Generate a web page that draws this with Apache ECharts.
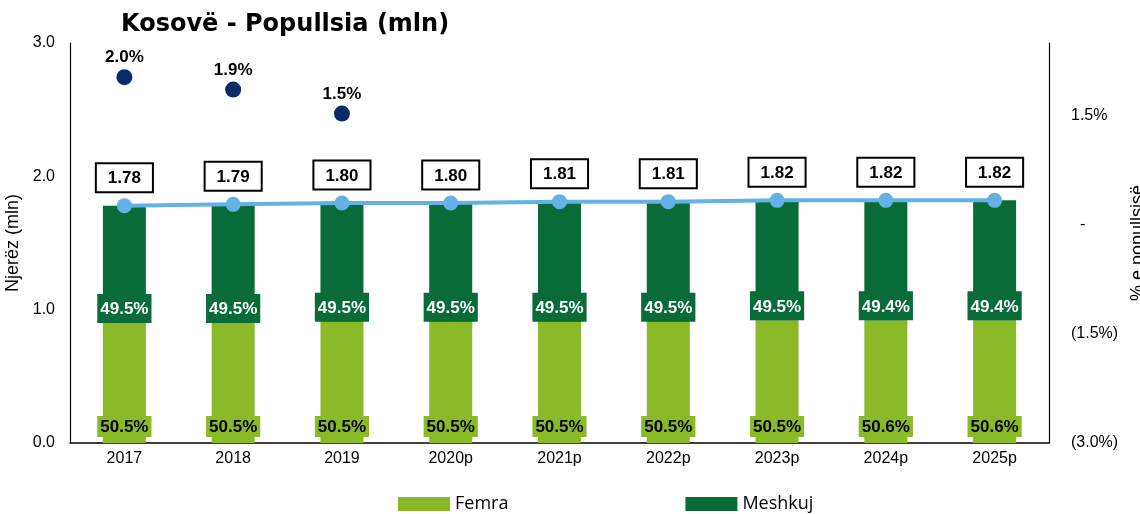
<!DOCTYPE html>
<html>
<head>
<meta charset="utf-8">
<script src="https://cdn.jsdelivr.net/npm/echarts@6/dist/echarts.min.js"></script>
<style>
  html, body { margin: 0; padding: 0; background: #fff; }
  #chart { width: 1140px; height: 514px; }
</style>
</head>
<body>
<div id="chart"></div>
<script>
// kategoritë (vitet)
const years = ['2017', '2018', '2019', '2020p', '2021p', '2022p', '2023p', '2024p', '2025p'];
// popullsia sipas gjinisë (mln)
const femra = [0.90, 0.90, 0.91, 0.91, 0.91, 0.91, 0.92, 0.92, 0.92];
const meshkuj = [0.88, 0.89, 0.89, 0.89, 0.90, 0.90, 0.90, 0.90, 0.90];
// gjithsej (mln)
const totali = [1.78, 1.79, 1.80, 1.80, 1.81, 1.81, 1.82, 1.82, 1.82];
// përqindjet e etiketave
const femraPct = ['50.5%', '50.5%', '50.5%', '50.5%', '50.5%', '50.5%', '50.5%', '50.6%', '50.6%'];
const meshkujPct = ['49.5%', '49.5%', '49.5%', '49.5%', '49.5%', '49.5%', '49.5%', '49.4%', '49.4%'];
// rritja e popullsisë (%)
const rritja = [2.03, 1.86, 1.53, null, null, null, null, null, null];
const rritjaTxt = ['2.0%', '1.9%', '1.5%', '', '', '', '', '', ''];

const FONT = 'Liberation Sans';
const chart = echarts.init(document.getElementById('chart'));

const option = {
  animation: false,
  textStyle: { fontFamily: FONT },
  title: {
    text: 'Kosovë - Popullsia (mln)',
    left: 116,
    top: 8,
    textStyle: { fontFamily: 'DejaVu Sans', fontWeight: 'bold', fontSize: 24, color: '#000' }
  },
  legend: {
    data: ['Femra', 'Meshkuj'],
    left: 393,
    top: 490,
    itemWidth: 52,
    itemHeight: 14,
    itemGap: 177,
    icon: 'rect',
    textStyle: { fontFamily: 'Open Sans', fontSize: 18, color: '#000' }
  },
  grid: { left: 70, right: 91, top: 43, bottom: 71, outerBoundsMode: 'none', containLabel: false },
  xAxis: {
    type: 'category',
    data: years,
    axisTick: { show: false },
    axisLine: { lineStyle: { color: '#000', width: 1.5 } },
    axisLabel: { color: '#000', fontFamily: FONT, fontSize: 16, margin: 8 }
  },
  yAxis: [
    {
      type: 'value',
      min: 0, max: 3, interval: 1,
      name: 'Njerëz (mln)',
      nameLocation: 'middle',
      nameRotate: 90,
      nameGap: 37,
      nameTextStyle: { fontFamily: FONT, fontSize: 18, color: '#000' },
      splitLine: { show: false },
      axisLine: { show: true, lineStyle: { color: '#000', width: 1.2 } },
      axisLabel: { color: '#000', fontFamily: FONT, fontSize: 16, margin: 15, formatter: v => v.toFixed(1) }
    },
    {
      type: 'value',
      min: -3, max: 2.5, interval: 1.5,
      position: 'right',
      name: '% e popullsisë',
      nameLocation: 'middle',
      nameRotate: 90,
      nameGap: 78,
      nameTextStyle: { fontFamily: FONT, fontSize: 18, color: '#000' },
      splitLine: { show: false },
      axisLine: { show: true, lineStyle: { color: '#000', width: 1.2 } },
      axisLabel: {
        color: '#000', fontFamily: FONT, fontSize: 16, margin: 22, showMaxLabel: false,
        formatter: function (v) {
          if (Math.abs(v) < 1e-9) return '  -';
          if (v < 0) return '(' + Math.abs(v).toFixed(1) + '%)';
          return v.toFixed(1) + '%';
        }
      }
    }
  ],
  series: [
    {
      name: 'Femra',
      type: 'bar',
      stack: 'pop',
      barWidth: 43,
      data: femra,
      itemStyle: { color: '#8aba28' },
      label: {
        show: true,
        position: 'insideBottom',
        distance: 6,
        formatter: p => femraPct[p.dataIndex],
        color: '#000',
        fontFamily: FONT,
        fontWeight: 'bold',
        fontSize: 17,
        backgroundColor: '#8aba28',
        padding: [3, 3, 1, 3]
      }
    },
    {
      name: 'Meshkuj',
      type: 'bar',
      stack: 'pop',
      barWidth: 43,
      data: meshkuj,
      itemStyle: { color: '#086b38' },
      label: {
        show: true,
        position: 'insideBottom',
        distance: 0,
        formatter: p => meshkujPct[p.dataIndex],
        color: '#fff',
        fontFamily: FONT,
        fontWeight: 'bold',
        fontSize: 17,
        backgroundColor: '#086b38',
        padding: [7, 3, 5, 3]
      }
    },
    {
      name: 'Gjithsej',
      type: 'line',
      data: totali,
      symbol: 'circle',
      symbolSize: 15,
      lineStyle: { color: '#63b1e5', width: 4 },
      itemStyle: { color: '#63b1e5' },
      label: {
        show: true,
        position: 'top',
        distance: 7,
        formatter: p => p.value.toFixed(2),
        color: '#000',
        fontFamily: FONT,
        fontWeight: 'bold',
        fontSize: 17,
        backgroundColor: '#fff',
        borderColor: '#000',
        borderWidth: 2,
        padding: [6, 11, 4, 11]
      },
      z: 5
    },
    {
      name: 'Rritja',
      type: 'scatter',
      yAxisIndex: 1,
      data: rritja,
      symbolSize: 16,
      itemStyle: { color: '#0b2a6b', opacity: 1 },
      label: {
        show: true,
        position: 'top',
        distance: 3,
        formatter: p => rritjaTxt[p.dataIndex],
        color: '#000',
        fontFamily: FONT,
        fontWeight: 'bold',
        fontSize: 17
      }
    }
  ]
};

chart.setOption(option);
</script>
</body>
</html>
